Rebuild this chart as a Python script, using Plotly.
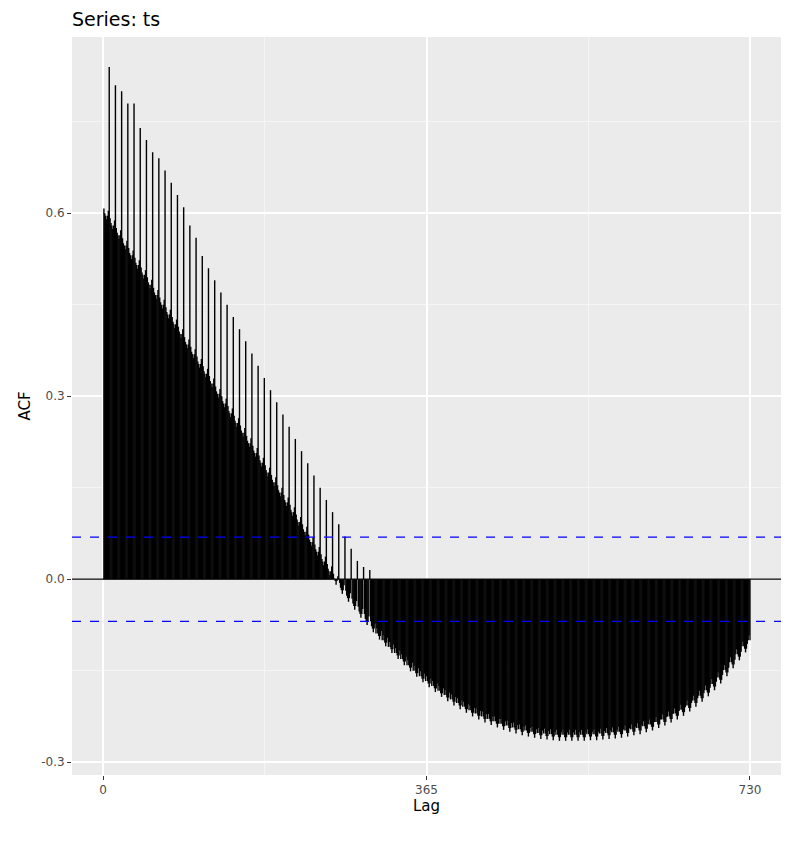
import plotly.graph_objects as go

# ACF values, one entry per week (lag 7k)
base = [0.600, 0.584, 0.568, 0.551, 0.535, 0.519, 0.503, 0.487, 0.470, 0.454,
        0.438, 0.422, 0.406, 0.389, 0.373, 0.357, 0.341, 0.325, 0.308, 0.292,
        0.276, 0.260, 0.244, 0.227, 0.211, 0.195, 0.179, 0.163, 0.146, 0.130,
        0.114, 0.098, 0.082, 0.065, 0.049, 0.033, 0.017, 0.001, -0.014, -0.027,
        -0.040, -0.053, -0.065, -0.077, -0.089, -0.100, -0.111, -0.121, -0.131, -0.141,
        -0.150, -0.159, -0.167, -0.175, -0.183, -0.190, -0.197, -0.203, -0.209, -0.215,
        -0.220, -0.225, -0.229, -0.233, -0.237, -0.240, -0.243, -0.246, -0.248, -0.250,
        -0.252, -0.253, -0.254, -0.255, -0.255, -0.255, -0.255, -0.255, -0.254, -0.254,
        -0.253, -0.252, -0.251, -0.250, -0.248, -0.246, -0.244, -0.241, -0.238, -0.234,
        -0.230, -0.225, -0.220, -0.214, -0.207, -0.199, -0.191, -0.182, -0.172, -0.161,
        -0.149, -0.136, -0.123, -0.110, -0.100]
# seasonal peaks at lags 7, 14, 21, ...
peaks = [0.84, 0.81, 0.80, 0.78, 0.78, 0.74, 0.72, 0.70, 0.69, 0.67,
         0.65, 0.63, 0.61, 0.58, 0.56, 0.53, 0.51, 0.49, 0.47, 0.45,
         0.43, 0.41, 0.39, 0.37, 0.35, 0.33, 0.31, 0.29, 0.27, 0.25,
         0.23, 0.21, 0.19, 0.17, 0.15, 0.13, 0.11, 0.09, 0.07, 0.05,
         0.03, 0.02, 0.015]
# offsets of the other weekdays relative to the weekly base
weekday_offset = [0.0, 0.008, 0.0, -0.004, -0.01, -0.004, 0.004]
conf = 0.069
max_lag = 730

xs, ys = [], []
for lag in range(1, max_lag + 1):
    k, d = divmod(lag, 7)
    if d == 0 and 1 <= k <= len(peaks):
        v = peaks[k - 1]
    else:
        v = base[k] + weekday_offset[d]
    xs += [lag, lag, None]
    ys += [0, v, None]

fig = go.Figure()
fig.add_trace(go.Scatter(x=xs, y=ys, mode="lines",
                         line=dict(color="black", width=1.4), showlegend=False))

fig.add_hline(y=0, line=dict(color="black", width=1.2))
fig.add_hline(y=conf, line=dict(color="blue", width=1.3, dash="dash"))
fig.add_hline(y=-conf, line=dict(color="blue", width=1.3, dash="dash"))

fig.update_layout(
    width=800, height=841,
    title=dict(text="Series: ts", x=0.08, xanchor="left", y=0.995,
               font=dict(size=19, color="black")),
    paper_bgcolor="white", plot_bgcolor="#EBEBEB",
    margin=dict(l=64, r=27, t=29, b=74),
    font=dict(family="DejaVu Sans", color="#4D4D4D", size=12),
)
fig.update_xaxes(range=[-35, 765], tickvals=[0, 365, 730], ticks="outside",
                 ticklen=4, tickcolor="#333", gridcolor="white", gridwidth=1.5,
                 minor=dict(tickvals=[182.5, 547.5], gridcolor="#F5F5F5", gridwidth=0.8),
                 zeroline=False, title=dict(text="Lag", font=dict(size=15, color="black"), standoff=2))
fig.update_yaxes(range=[-0.321, 0.889], tickvals=[-0.3, 0, 0.3, 0.6],
                 ticktext=["-0.3", "0.0", "0.3", "0.6"], ticks="outside",
                 ticklen=4, tickcolor="#333", gridcolor="white", gridwidth=1.5,
                 minor=dict(tickvals=[-0.15, 0.15, 0.45, 0.75], gridcolor="#F5F5F5", gridwidth=0.8),
                 zeroline=False, title=dict(text="ACF", font=dict(size=15, color="black"), standoff=6))

fig.write_html("out.html")
